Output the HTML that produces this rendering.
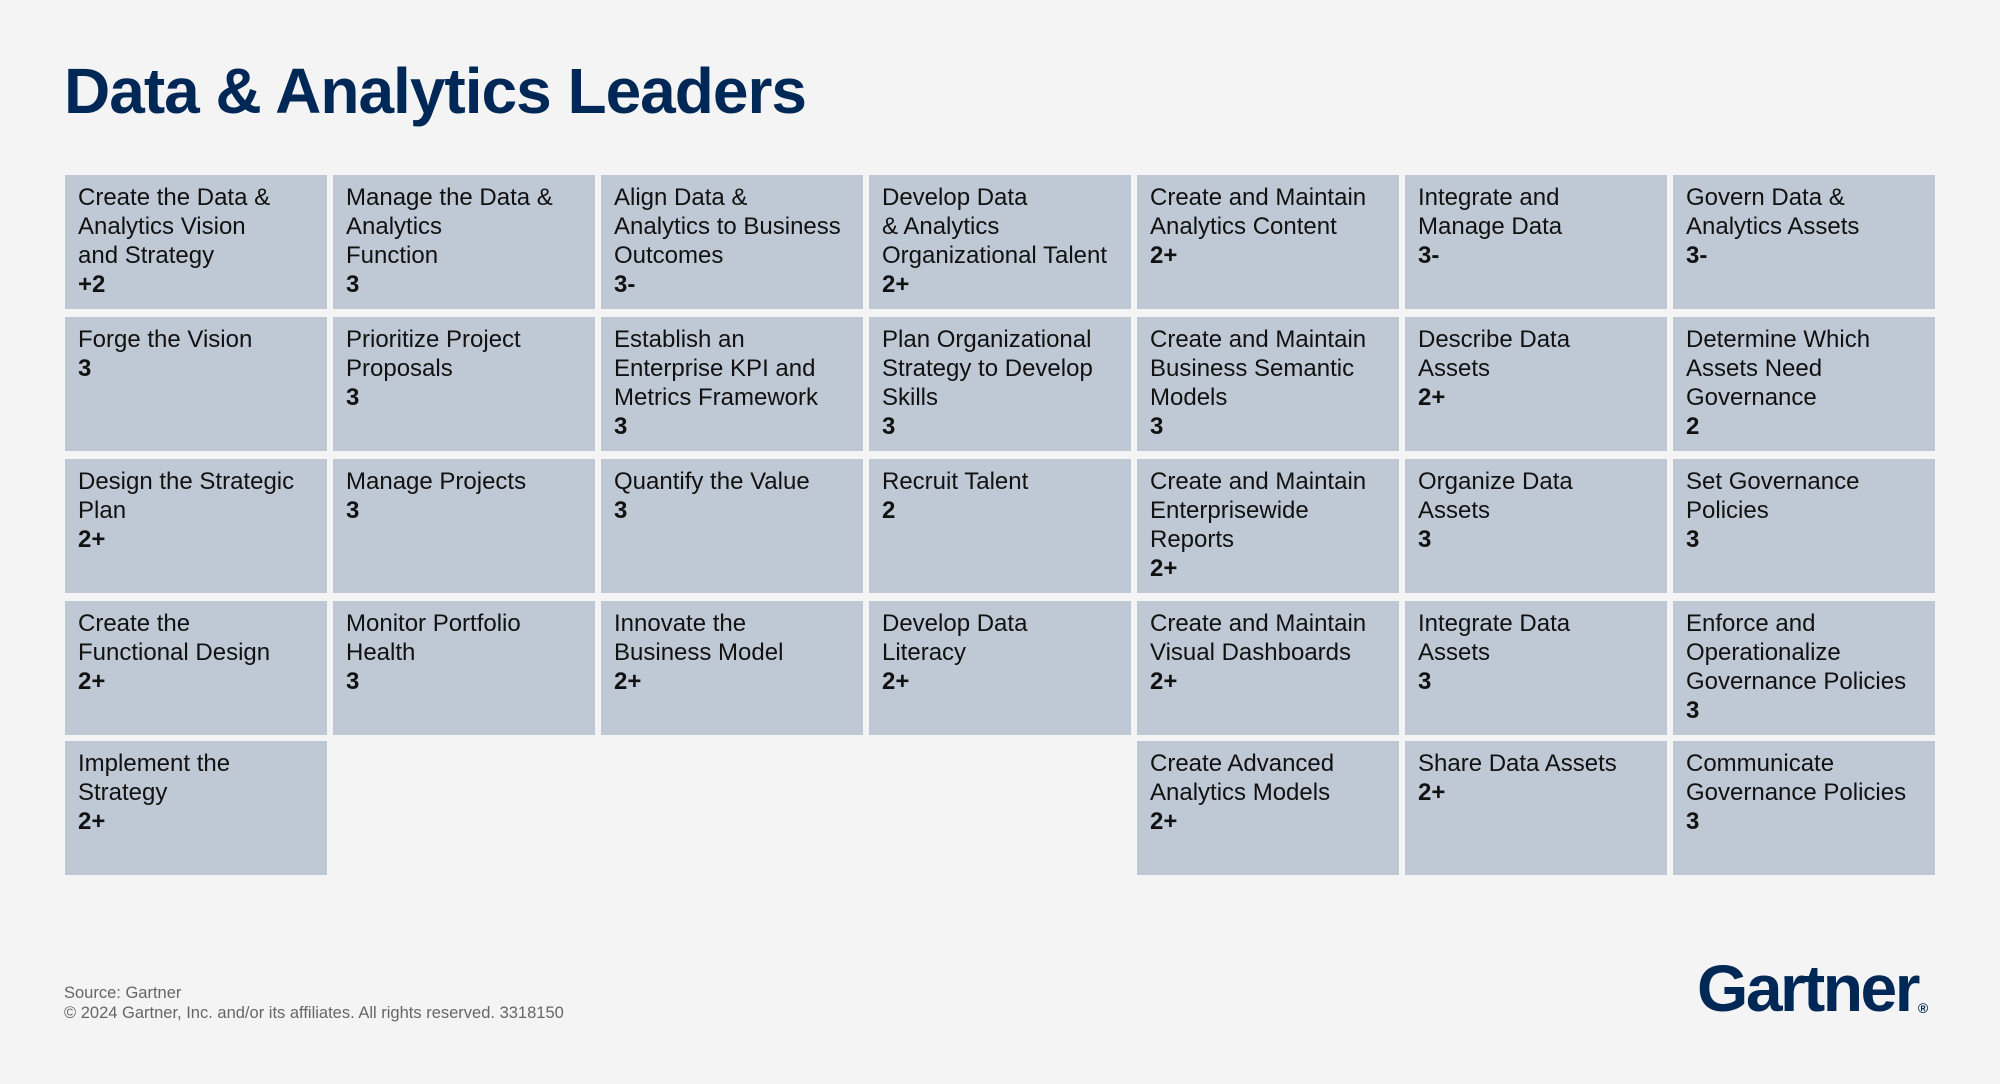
<!DOCTYPE html>
<html><head><meta charset="utf-8"><style>
body{margin:0;width:2000px;height:1084px;background:#f4f4f4;position:relative;overflow:hidden;font-family:"Liberation Sans Narrow","Liberation Sans",sans-serif;}
h1{position:absolute;left:64px;top:54px;margin:0;font-family:"Liberation Sans",sans-serif;font-weight:bold;font-size:64px;color:#002856;letter-spacing:-1px;}
.c{position:absolute;width:262px;height:134px;background:#bfc9d5;box-sizing:border-box;padding:8px 13px;font-size:24px;line-height:29px;color:#111;}
.c b{font-weight:bold;}
.src{position:absolute;left:64px;top:983px;font-family:"Liberation Sans",sans-serif;font-size:16.5px;color:#666;line-height:20px;}
.logo{position:absolute;left:1697px;top:950px;font-family:"Liberation Sans",sans-serif;font-weight:bold;font-size:66px;color:#002856;letter-spacing:-2.5px;}
.logo sup{font-size:14px;letter-spacing:0;vertical-align:-2px;}
</style></head><body>
<h1>Data &amp; Analytics Leaders</h1>
<div class="c" style="left:65px;top:175px">Create the Data &amp;<br>Analytics Vision<br>and Strategy<br><b>+2</b></div>
<div class="c" style="left:333px;top:175px">Manage the Data &amp;<br>Analytics<br>Function<br><b>3</b></div>
<div class="c" style="left:601px;top:175px">Align Data &amp;<br>Analytics to Business<br>Outcomes<br><b>3-</b></div>
<div class="c" style="left:869px;top:175px">Develop Data<br>&amp; Analytics<br>Organizational Talent<br><b>2+</b></div>
<div class="c" style="left:1137px;top:175px">Create and Maintain<br>Analytics Content<br><b>2+</b></div>
<div class="c" style="left:1405px;top:175px">Integrate and<br>Manage Data<br><b>3-</b></div>
<div class="c" style="left:1673px;top:175px">Govern Data &amp;<br>Analytics Assets<br><b>3-</b></div>

<div class="c" style="left:65px;top:317px">Forge the Vision<br><b>3</b></div>
<div class="c" style="left:333px;top:317px">Prioritize Project<br>Proposals<br><b>3</b></div>
<div class="c" style="left:601px;top:317px">Establish an<br>Enterprise KPI and<br>Metrics Framework<br><b>3</b></div>
<div class="c" style="left:869px;top:317px">Plan Organizational<br>Strategy to Develop<br>Skills<br><b>3</b></div>
<div class="c" style="left:1137px;top:317px">Create and Maintain<br>Business Semantic<br>Models<br><b>3</b></div>
<div class="c" style="left:1405px;top:317px">Describe Data<br>Assets<br><b>2+</b></div>
<div class="c" style="left:1673px;top:317px">Determine Which<br>Assets Need<br>Governance<br><b>2</b></div>

<div class="c" style="left:65px;top:459px">Design the Strategic<br>Plan<br><b>2+</b></div>
<div class="c" style="left:333px;top:459px">Manage Projects<br><b>3</b></div>
<div class="c" style="left:601px;top:459px">Quantify the Value<br><b>3</b></div>
<div class="c" style="left:869px;top:459px">Recruit Talent<br><b>2</b></div>
<div class="c" style="left:1137px;top:459px">Create and Maintain<br>Enterprisewide<br>Reports<br><b>2+</b></div>
<div class="c" style="left:1405px;top:459px">Organize Data<br>Assets<br><b>3</b></div>
<div class="c" style="left:1673px;top:459px">Set Governance<br>Policies<br><b>3</b></div>

<div class="c" style="left:65px;top:601px">Create the<br>Functional Design<br><b>2+</b></div>
<div class="c" style="left:333px;top:601px">Monitor Portfolio<br>Health<br><b>3</b></div>
<div class="c" style="left:601px;top:601px">Innovate the<br>Business Model<br><b>2+</b></div>
<div class="c" style="left:869px;top:601px">Develop Data<br>Literacy<br><b>2+</b></div>
<div class="c" style="left:1137px;top:601px">Create and Maintain<br>Visual Dashboards<br><b>2+</b></div>
<div class="c" style="left:1405px;top:601px">Integrate Data<br>Assets<br><b>3</b></div>
<div class="c" style="left:1673px;top:601px">Enforce and<br>Operationalize<br>Governance Policies<br><b>3</b></div>

<div class="c" style="left:65px;top:741px">Implement the<br>Strategy<br><b>2+</b></div>
<div class="c" style="left:1137px;top:741px">Create Advanced<br>Analytics Models<br><b>2+</b></div>
<div class="c" style="left:1405px;top:741px">Share Data Assets<br><b>2+</b></div>
<div class="c" style="left:1673px;top:741px">Communicate<br>Governance Policies<br><b>3</b></div>

<div class="src">Source: Gartner<br>© 2024 Gartner, Inc. and/or its affiliates. All rights reserved. 3318150</div>
<div class="logo">Gartner<sup>®</sup></div>
</body></html>
